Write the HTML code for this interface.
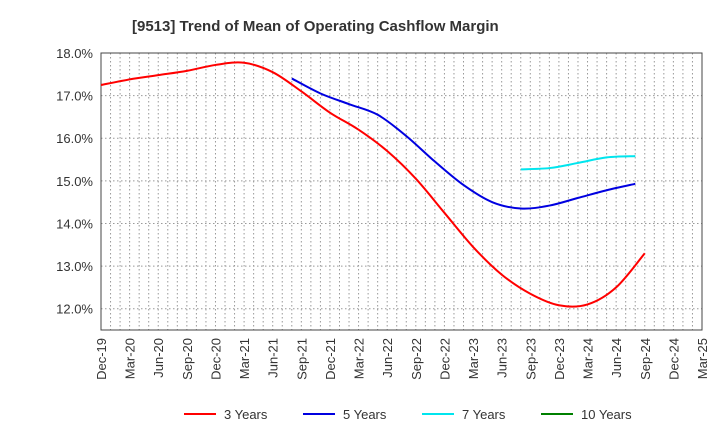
<!DOCTYPE html>
<html><head><meta charset="utf-8"><style>
body{margin:0;background:#fff;font-family:"Liberation Sans",sans-serif}
svg{display:block}
</style></head><body>
<svg id="c" width="720" height="440">
<text x="132" y="31" font-size="15" font-weight="bold" fill="#333">[9513]  Trend of Mean of Operating Cashflow Margin</text>
<g id="grid"></g><g id="axes"></g><g id="series"></g><g id="legend"></g>
</svg>
<script>
const xLabels=["Dec-19","Mar-20","Jun-20","Sep-20","Dec-20","Mar-21","Jun-21","Sep-21","Dec-21","Mar-22","Jun-22","Sep-22","Dec-22","Mar-23","Jun-23","Sep-23","Dec-23","Mar-24","Jun-24","Sep-24","Dec-24","Mar-25"];
const yTicks=[12,13,14,15,16,17,18];
const red=[17.25,17.38,17.48,17.58,17.72,17.77,17.55,17.1,16.6,16.2,15.7,15.05,14.25,13.45,12.8,12.35,12.08,12.1,12.5,13.3];
const blue=[17.4,17.05,16.8,16.55,16.05,15.45,14.9,14.5,14.35,14.42,14.6,14.78,14.93];
const blueStart=6.67;
const cyan=[15.27,15.3,15.42,15.55,15.58];
const cyanStart=14.67;
const L=101,R=702,T=53,B=330,ymin=11.5,ymax=18;
const X=i=>L+i*(R-L)/(xLabels.length-1);
const Y=v=>B-(v-ymin)*(B-T)/(ymax-ymin);
const NS="http://www.w3.org/2000/svg";
function mk(t,a,p){const e=document.createElementNS(NS,t);for(const k in a)e.setAttribute(k,a[k]);p.appendChild(e);return e;}
const g=document.getElementById('grid'),ax=document.getElementById('axes'),s=document.getElementById('series'),lg=document.getElementById('legend');
for(let m=1;m<(xLabels.length-1)*3;m++){const x=L+m*(R-L)/((xLabels.length-1)*3);
const l=mk('line',{x1:x,x2:x,y1:T,y2:B,stroke:'#999','stroke-dasharray':'1.5,2.5','stroke-width':1},g);

}
yTicks.forEach(v=>{const l=mk('line',{x1:L,x2:R,y1:Y(v),y2:Y(v),stroke:'#999','stroke-dasharray':'1.5,2.5'},g);


const t=mk('text',{x:L-8,y:Y(v)+5,'text-anchor':'end','font-size':13,fill:'#333'},ax);t.textContent=v.toFixed(1)+'%';

});
const fr=mk('rect',{x:L,y:T,width:R-L,height:B-T,fill:'none',stroke:'#444','stroke-width':1},ax);


xLabels.forEach((lab,i)=>{const t=mk('text',{transform:`translate(${X(i)+5},${B+8}) rotate(-90)`,'text-anchor':'end','font-size':13,fill:'#333'},ax);t.textContent=lab;

});
function path(vals,start){const p=vals.map((v,i)=>[X(start+i),Y(v)]);let d=`M${p[0][0]},${p[0][1]}`;
for(let i=0;i<p.length-1;i++){const p0=p[i-1]||p[i],p1=p[i],p2=p[i+1],p3=p[i+2]||p2;
d+=` C${p1[0]+(p2[0]-p0[0])/6},${p1[1]+(p2[1]-p0[1])/6} ${p2[0]-(p3[0]-p1[0])/6},${p2[1]-(p3[1]-p1[1])/6} ${p2[0]},${p2[1]}`;}return d;}
[[red,0,'#ff0000','red-3-years-line'],[blue,blueStart,'#0000e0','blue-5-years-line'],[cyan,cyanStart,'#00e5ee','cyan-7-years-line']].forEach(([v,st,c,n])=>{
const e=mk('path',{d:path(v,st),fill:'none',stroke:c,'stroke-width':2},s);

});
[['3 Years','#ff0000',184],['5 Years','#0000e0',303],['7 Years','#00e5ee',422],['10 Years','#008000',541]].forEach(([t,c,x])=>{
const l=mk('line',{x1:x,x2:x+32,y1:414,y2:414,stroke:c,'stroke-width':2},lg);


const tx=mk('text',{x:x+40,y:419,'font-size':13,fill:'#333'},lg);tx.textContent=t;

});
</script>
</body></html>
